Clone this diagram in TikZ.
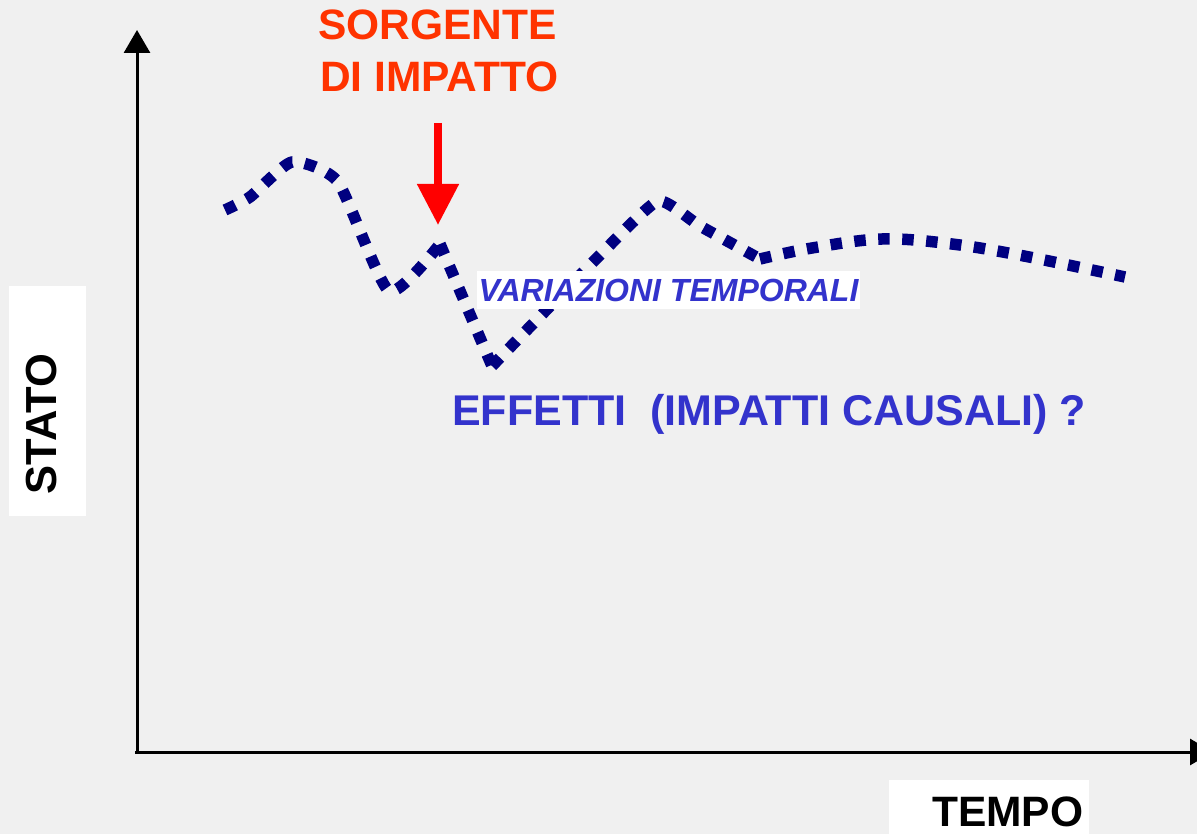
\documentclass[tikz,border=0pt]{standalone}
\usepackage{fontspec}
\setmainfont{Liberation Sans}
\usetikzlibrary{arrows.meta}
\definecolor{bg}{RGB}{240,240,240}
\definecolor{curvenavy}{RGB}{0,0,128}
\definecolor{txtblue}{RGB}{51,51,204}
\definecolor{srcorange}{RGB}{255,51,0}
\definecolor{arrred}{RGB}{255,0,0}
\tikzset{
  axis/.style={line width=3pt, -{Triangle[width=26pt,length=23pt]}},
  trend/.style={curvenavy, line width=11.5pt, dash pattern=on 11.5pt off 12.5pt},
  lab/.style={inner sep=0pt, font=\bfseries\fontsize{42.5}{50}\selectfont},
  whitebox/.style={fill=white, draw=none, inner sep=0pt},
}
\begin{document}
\begin{tikzpicture}[x=1pt,y=-1pt]
\fill[bg] (0,0) rectangle (1197,834);
\useasboundingbox (0,0) rectangle (1197,834);
\clip (0,0) rectangle (1197,834);

% axes
\coordinate (origin) at (137,752);
\coordinate (ytip) at (137,30);
\coordinate (xtip) at (1213,752);
\draw[axis] (origin) -- (ytip);
\draw[axis] (135,752) -- (xtip);

% label boxes
\node[whitebox, minimum width=77pt, minimum height=230pt] (statobox) at (47.5,401) {};
\node[lab, rotate=90, anchor=base, font=\bfseries\fontsize{43.5}{50}\selectfont] (stato) at (56,424) {STATO};
\node[whitebox, minimum width=200pt, minimum height=60pt] (tempobox) at (989,810) {};
\node[lab, anchor=base west] (tempo) at (932,826) {TEMPO};

% trend curve
\draw[trend] plot[smooth, tension=0.35] coordinates {(225,210) (250,197) (292,162) (338,182) (389,291) (440,244)};
\draw[trend] (440,244) -- (492,366);
\draw[trend] plot[smooth, tension=0.3] coordinates {(492,366) (600,255) (658,201) (700,226) (760,259)};
\draw[trend] plot[smooth, tension=0.6] coordinates {(760,259) (812,248) (882,239) (952,244) (1024,256) (1125,277)};

% source
\node[lab, text=srcorange, anchor=base west] (sorg1) at (318,40) {SORGENTE};
\node[lab, text=srcorange, anchor=base west] (sorg2) at (320,92) {DI IMPATTO};
\coordinate (arrstart) at (438,123);
\coordinate (arrhit) at (438,225);
\draw[arrred, line width=8pt, -{Triangle[width=40pt,length=41pt]}] (arrstart) -- (arrhit);

% labels
\node[whitebox, minimum width=383pt, minimum height=38pt, text=txtblue, font=\bfseries\itshape\fontsize{32}{36}\selectfont] (var) at (668.5,290) {VARIAZIONI TEMPORALI};
\node[anchor=base west, inner sep=0pt, text=txtblue, font=\bfseries\fontsize{43}{50}\selectfont] (eff) at (452,425) {EFFETTI\ \ (IMPATTI CAUSALI) ?};
\end{tikzpicture}
\end{document}
